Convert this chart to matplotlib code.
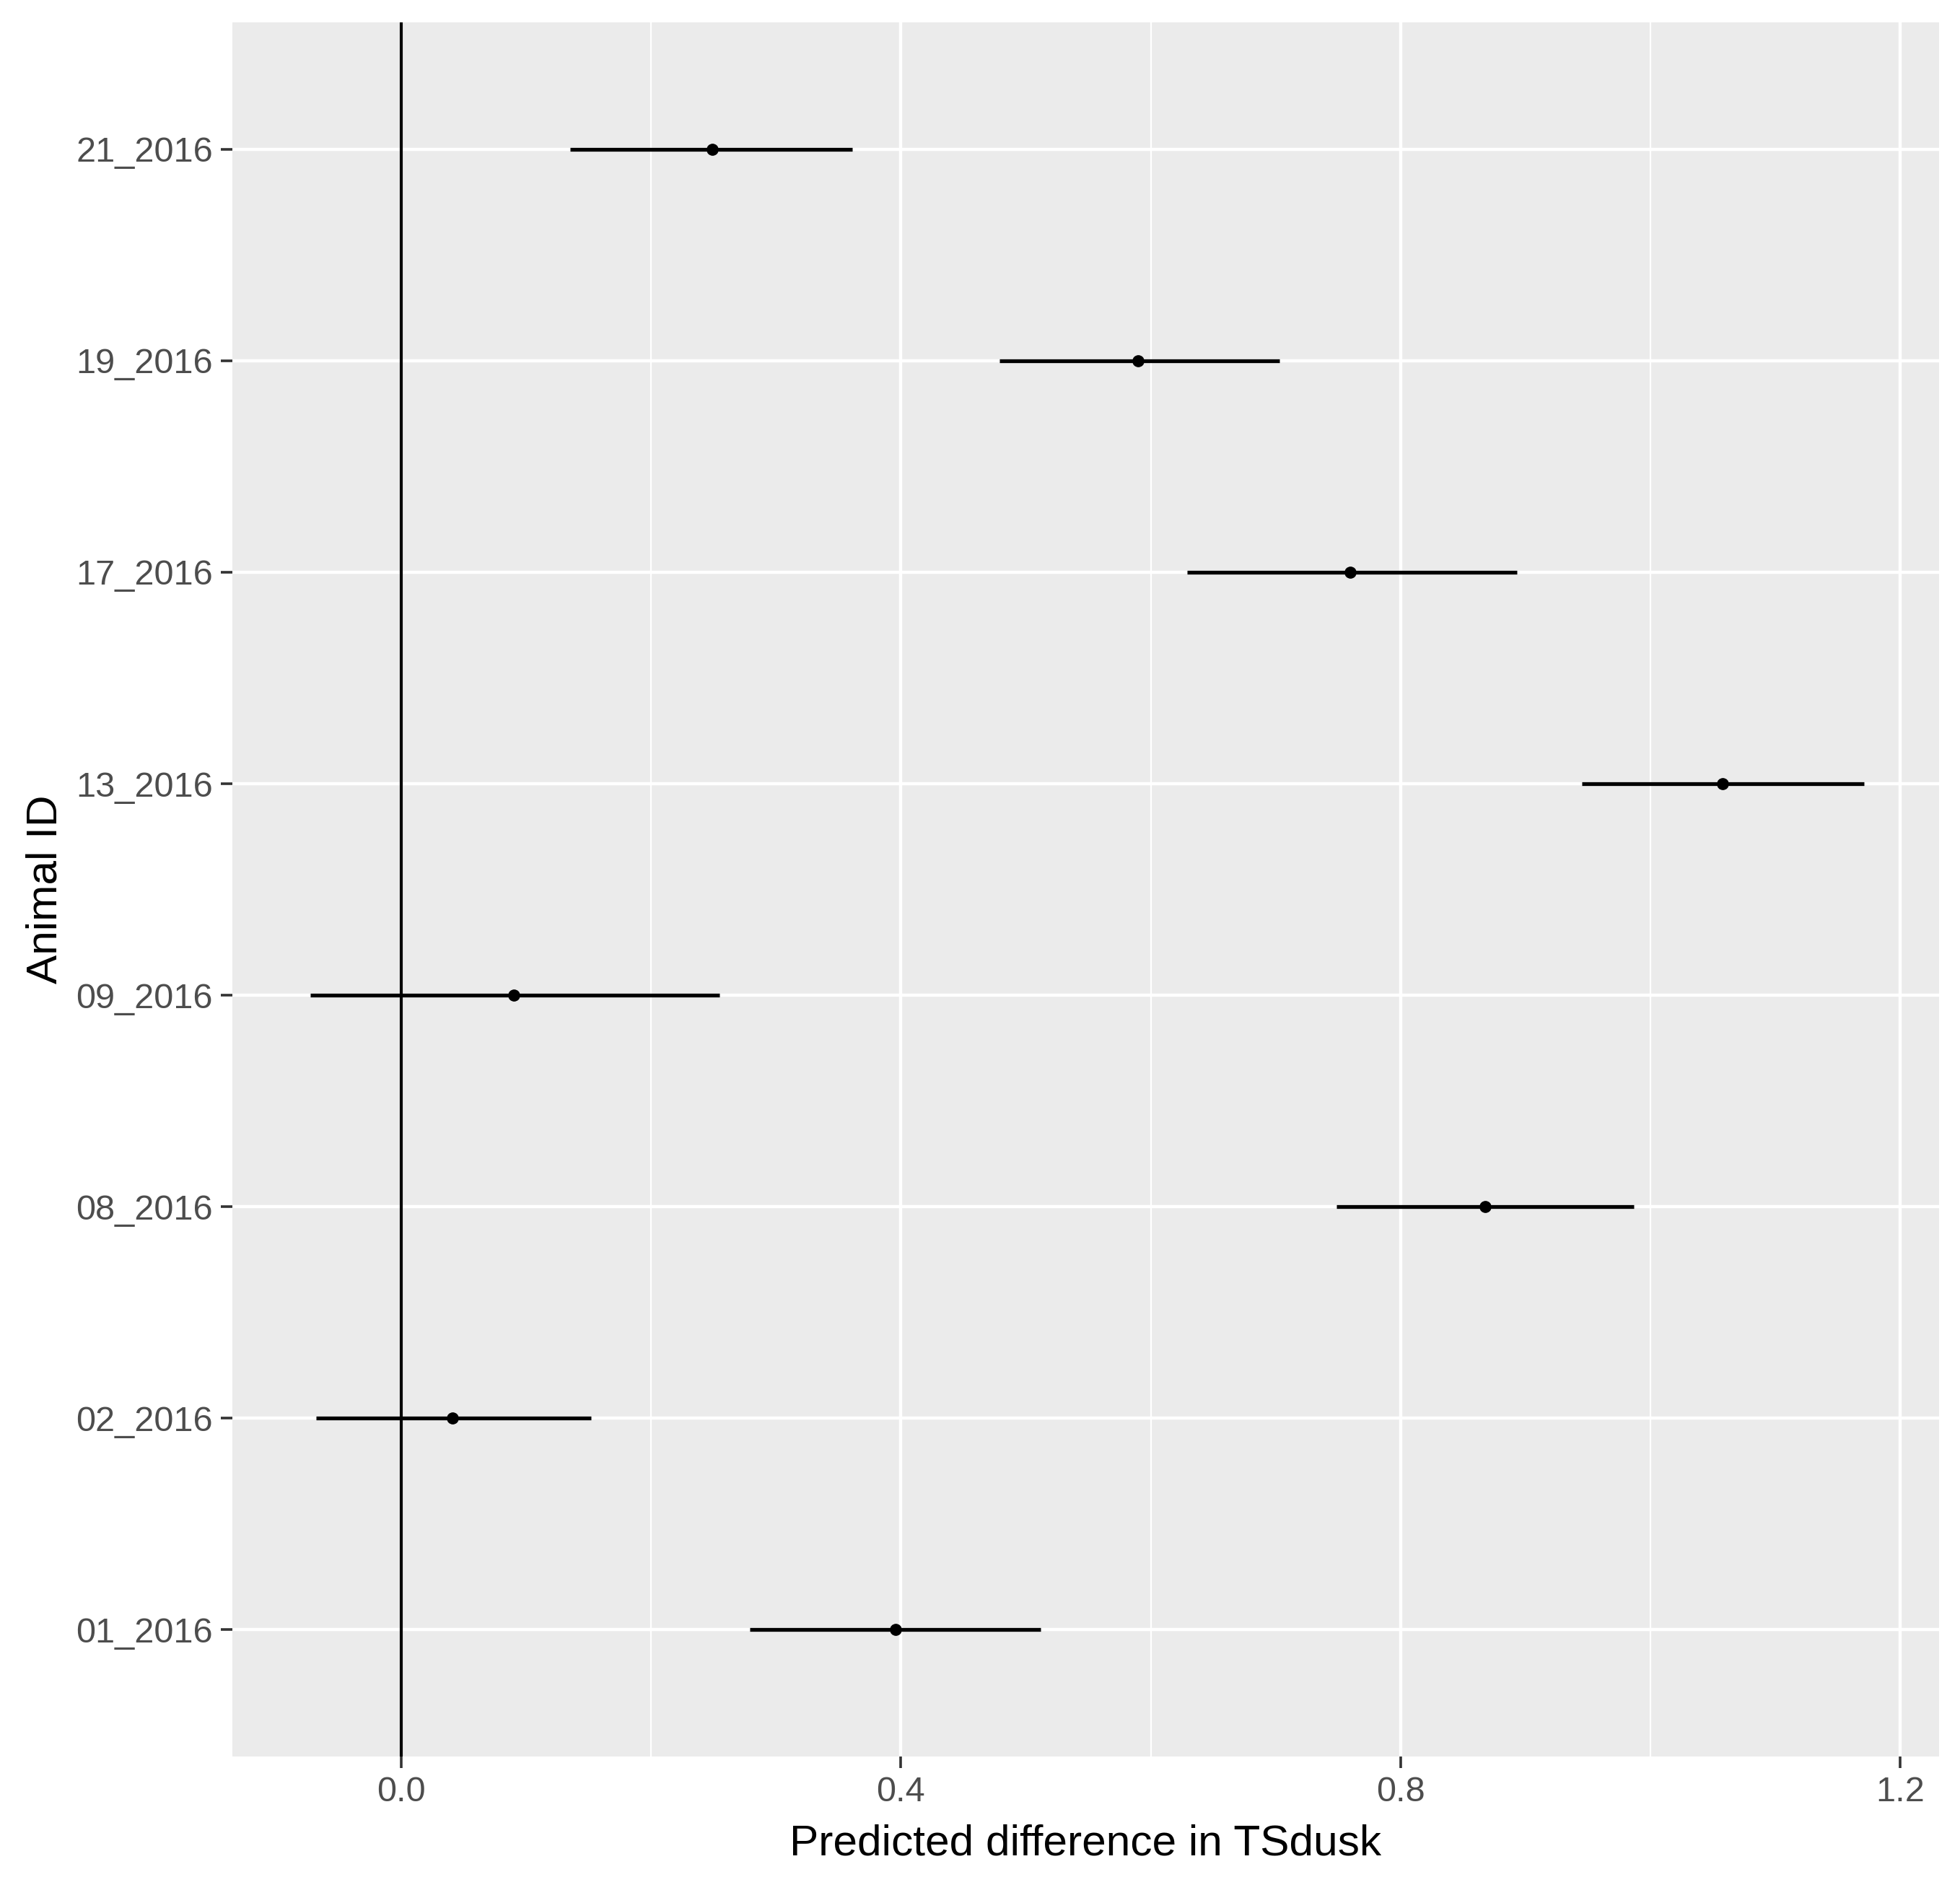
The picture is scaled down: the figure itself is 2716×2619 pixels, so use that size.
import numpy as np
import matplotlib
matplotlib.use('Agg')
import matplotlib.pyplot as plt
from matplotlib.ticker import MultipleLocator

# datos
animales = ['01_2016', '02_2016', '08_2016', '09_2016',
            '13_2016', '17_2016', '19_2016', '21_2016']
estim = [0.396, 0.041, 0.868, 0.090, 1.058, 0.760, 0.590, 0.249]
inf = [0.279, -0.068, 0.749, -0.073, 0.945, 0.629, 0.479, 0.135]
sup = [0.512, 0.152, 0.987, 0.255, 1.171, 0.893, 0.703, 0.361]

plt.rcParams['font.family'] = ['Liberation Sans', 'DejaVu Sans']

fig = plt.figure(figsize=(27.16, 26.19), dpi=100)
ax = fig.add_axes([0.1186, 0.0705, 0.9893 - 0.1186, 0.9882 - 0.0705])
ax.set_facecolor('#EBEBEB')

y = np.arange(1, len(animales) + 1)

ax.hlines(y, inf, sup, color='black', lw=3.8, zorder=3)
ax.plot(estim, y, 'o', color='black', ms=11, zorder=4)
ax.axvline(0, color='black', lw=3.0, zorder=2)

ax.set_xlim(-0.1352, 1.2312)
ax.set_ylim(0.4, 8.6)
ax.set_yticks(y)
ax.set_yticklabels(animales)
ax.xaxis.set_minor_locator(MultipleLocator(0.2))
ax.set_xticks([0.0, 0.4, 0.8, 1.2])
ax.set_xticklabels(['0.0', '0.4', '0.8', '1.2'])

ax.grid(which='major', color='white', lw=3.2)
ax.grid(which='minor', axis='x', color='white', lw=1.6)
ax.set_axisbelow(True)
for s in ax.spines.values():
    s.set_visible(False)

ax.tick_params(which='major', length=11.5, width=2.6, color='#333333',
               labelsize=35, labelcolor='#4D4D4D', pad=8)
ax.tick_params(which='minor', length=0)

ax.set_xlabel('Predicted difference in TSdusk', fontsize=43.5, labelpad=15)
ax.set_ylabel('Animal ID', fontsize=43.5, labelpad=11)

fig.savefig('out.png', dpi=100, facecolor='white')
